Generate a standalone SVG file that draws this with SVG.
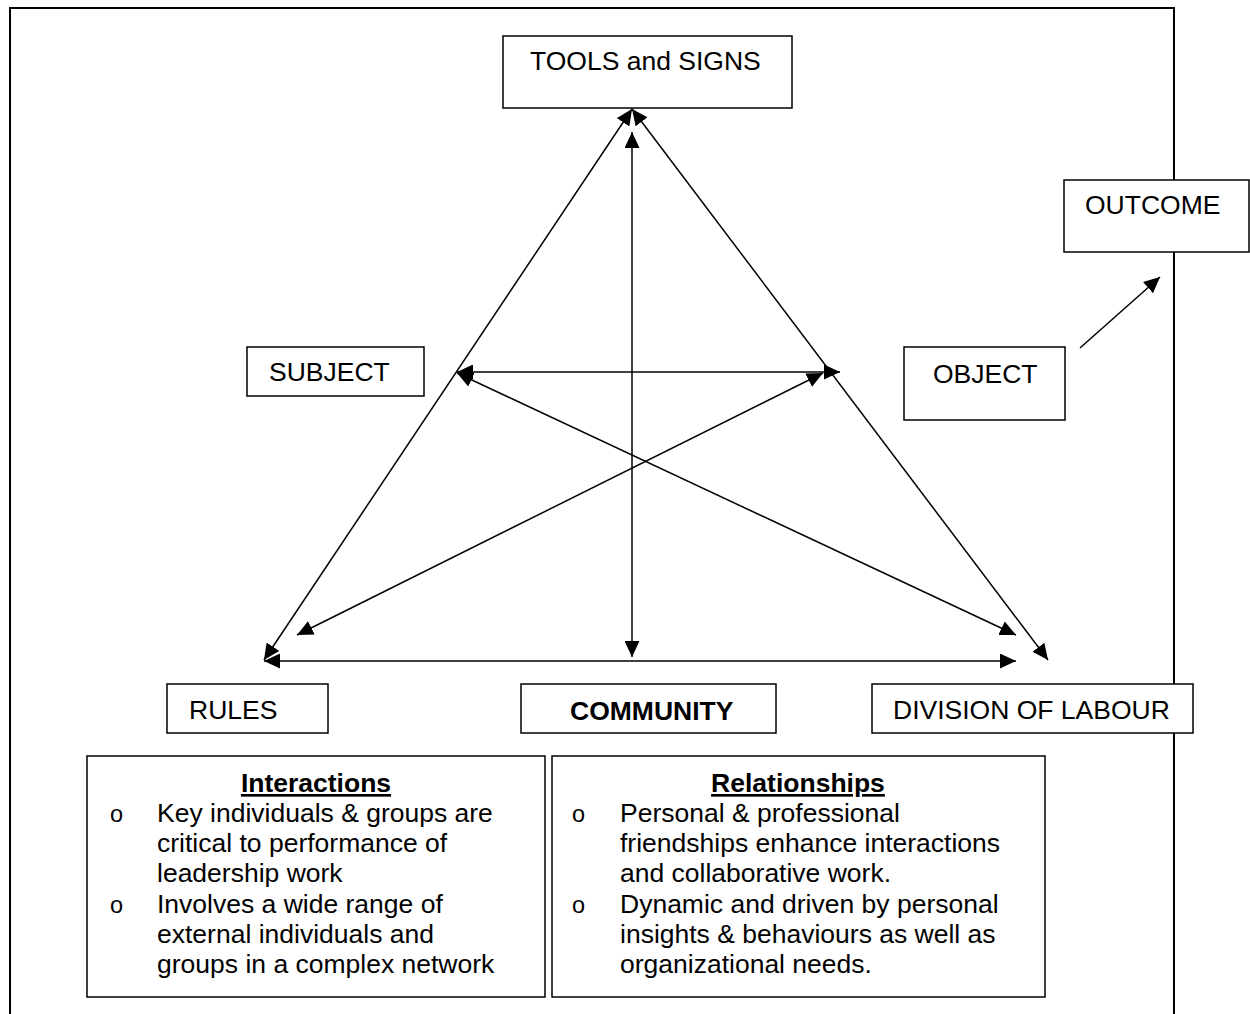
<svg xmlns="http://www.w3.org/2000/svg" width="1250" height="1014" viewBox="0 0 1250 1014">
<style>
.box{fill:#fff;stroke:#000;stroke-width:1.5}
.lbl{font-family:"Liberation Sans",Arial,sans-serif;font-size:26.5px;fill:#000}
.body{font-family:"Liberation Sans",Arial,sans-serif;font-size:26.5px;fill:#000}
.bul{font-family:"Liberation Sans",Arial,sans-serif;font-size:23.5px;fill:#000}
.title{font-weight:bold;text-decoration:underline;text-anchor:middle}
.con{fill:none;stroke:#000;stroke-width:1.5}
</style>
<defs>
<marker id="ah" viewBox="0 0 16 15" refX="16" refY="7.5" markerWidth="16" markerHeight="15" markerUnits="userSpaceOnUse" orient="auto-start-reverse">
<path d="M0,0 L16,7.5 L0,15 z" fill="#000"/>
</marker>
</defs>
<rect width="1250" height="1014" fill="#fff"/>
<path id="frame" d="M10,1014 V8 H1174 V1014" fill="none" stroke="#000" stroke-width="2"/>
<g id="connectors">
<line class="con" x1="264" y1="660" x2="632" y2="109" marker-start="url(#ah)" marker-end="url(#ah)"/>
<line class="con" x1="1048" y1="660" x2="632" y2="109" marker-start="url(#ah)" marker-end="url(#ah)"/>
<line class="con" x1="632" y1="132" x2="632" y2="657" marker-start="url(#ah)" marker-end="url(#ah)"/>
<line class="con" x1="264" y1="661" x2="1016" y2="661" marker-start="url(#ah)" marker-end="url(#ah)"/>
<line class="con" x1="457" y1="372" x2="840" y2="372" marker-start="url(#ah)" marker-end="url(#ah)"/>
<line class="con" x1="457" y1="373" x2="1016" y2="635" marker-start="url(#ah)" marker-end="url(#ah)"/>
<line class="con" x1="297" y1="635" x2="823" y2="373" marker-start="url(#ah)" marker-end="url(#ah)"/>
<line class="con" x1="1080" y1="348" x2="1160" y2="277" marker-end="url(#ah)"/>
</g>
<g id="tools">
<rect class="box" x="503" y="36" width="289" height="72"/>
<text class="lbl" x="530" y="70">TOOLS and SIGNS</text>
</g>
<g id="outcome">
<rect class="box" x="1064" y="180" width="185" height="72"/>
<text class="lbl" x="1085" y="214">OUTCOME</text>
</g>
<g id="subject">
<rect class="box" x="247" y="347" width="177" height="49"/>
<text class="lbl" x="269" y="381">SUBJECT</text>
</g>
<g id="object">
<rect class="box" x="904" y="347" width="161" height="73"/>
<text class="lbl" x="933" y="383">OBJECT</text>
</g>
<g id="rules">
<rect class="box" x="167" y="684" width="161" height="49"/>
<text class="lbl" x="189" y="719">RULES</text>
</g>
<g id="community">
<rect class="box" x="521" y="684" width="255" height="49"/>
<text class="lbl" x="570" y="720" font-weight="bold" font-size="26">COMMUNITY</text>
</g>
<g id="division">
<rect class="box" x="872" y="684" width="321" height="49"/>
<text class="lbl" x="893" y="719" font-size="26">DIVISION OF LABOUR</text>
</g>
<g id="interactions">
<rect class="box" x="87" y="756" width="458" height="241"/>
<text class="body title" x="316" y="792">Interactions</text>
<text class="bul" x="110" y="822">o</text>
<text class="body" x="157" y="822">Key individuals &amp; groups are</text>
<text class="body" x="157" y="852">critical to performance of</text>
<text class="body" x="157" y="882">leadership work</text>
<text class="bul" x="110" y="913">o</text>
<text class="body" x="157" y="913">Involves a wide range of</text>
<text class="body" x="157" y="943">external individuals and</text>
<text class="body" x="157" y="973">groups in a complex network</text>
</g>
<g id="relationships">
<rect class="box" x="552" y="756" width="493" height="241"/>
<text class="body title" x="798" y="792">Relationships</text>
<text class="bul" x="572" y="822">o</text>
<text class="body" x="620" y="822">Personal &amp; professional</text>
<text class="body" x="620" y="852">friendships enhance interactions</text>
<text class="body" x="620" y="882">and collaborative work.</text>
<text class="bul" x="572" y="913">o</text>
<text class="body" x="620" y="913">Dynamic and driven by personal</text>
<text class="body" x="620" y="943">insights &amp; behaviours as well as</text>
<text class="body" x="620" y="973">organizational needs.</text>
</g>
</svg>
